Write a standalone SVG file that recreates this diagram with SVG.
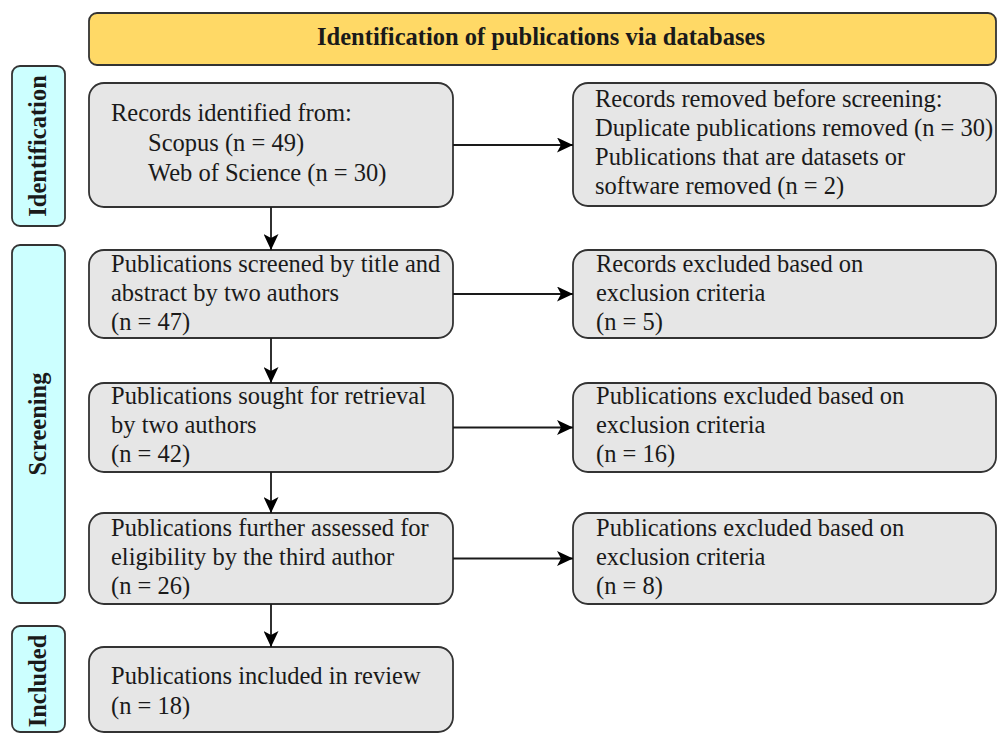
<svg xmlns="http://www.w3.org/2000/svg" width="997" height="734" viewBox="0 0 997 734">
<style>
.box{fill:#e6e6e6;stroke:#333;stroke-width:1.8}
.lab{fill:#ccffff;stroke:#333;stroke-width:1.8}
.hdr{fill:#ffd966;stroke:#333;stroke-width:1.8}
text{font-family:"Liberation Serif","Times New Roman",serif;font-size:24.5px;fill:#1a1a1a}
.b{font-weight:bold}
.conn line{stroke:#1a1a1a;stroke-width:1.8}
</style>
<defs>
<marker id="arr" markerUnits="userSpaceOnUse" markerWidth="17" markerHeight="15" refX="16" refY="7.5" orient="auto">
<path d="M0,0 L16,7.5 L0,15 L4,7.5 Z" fill="#000"/>
</marker>
</defs>
<rect width="997" height="734" fill="#fff"/>
<g id="header">
<rect class="hdr" x="89" y="13" width="907" height="52" rx="8"/>
<text class="b" x="541" y="45" text-anchor="middle">Identification of publications via databases</text>
</g>
<g id="lab-identification">
<rect class="lab" x="12" y="66" width="53" height="160" rx="8"/>
<text class="b" transform="translate(46,146) rotate(-90)" text-anchor="middle">Identification</text>
</g>
<g id="lab-screening">
<rect class="lab" x="12" y="245" width="53" height="358" rx="8"/>
<text class="b" transform="translate(46,424) rotate(-90)" text-anchor="middle">Screening</text>
</g>
<g id="lab-included">
<rect class="lab" x="12" y="626" width="53" height="106" rx="8"/>
<text class="b" transform="translate(46,681) rotate(-90)" text-anchor="middle">Included</text>
</g>
<g id="n1">
<rect class="box" x="89" y="83" width="364" height="124" rx="15"/>
<text x="111" y="121">Records identified from:</text>
<text x="148" y="151">Scopus (n = 49)</text>
<text x="148" y="181">Web of Science (n = 30)</text>
</g>
<g id="r1">
<rect class="box" x="573" y="83" width="423" height="123" rx="15"/>
<text x="595" y="107">Records removed before screening:</text>
<text x="595" y="136">Duplicate publications removed (n = 30)</text>
<text x="595" y="165">Publications that are datasets or</text>
<text x="595" y="194">software removed (n = 2)</text>
</g>
<g id="n2">
<rect class="box" x="89" y="250" width="364" height="88" rx="15"/>
<text x="111" y="272">Publications screened by title and</text>
<text x="111" y="301">abstract by two authors</text>
<text x="111" y="330">(n = 47)</text>
</g>
<g id="r2">
<rect class="box" x="573" y="250" width="423" height="88" rx="15"/>
<text x="596" y="272">Records excluded based on</text>
<text x="596" y="301">exclusion criteria</text>
<text x="596" y="330">(n = 5)</text>
</g>
<g id="n3">
<rect class="box" x="89" y="383" width="364" height="89" rx="15"/>
<text x="111" y="404">Publications sought for retrieval</text>
<text x="111" y="433">by two authors</text>
<text x="111" y="462">(n = 42)</text>
</g>
<g id="r3">
<rect class="box" x="573" y="383" width="423" height="89" rx="15"/>
<text x="596" y="404">Publications excluded based on</text>
<text x="596" y="433">exclusion criteria</text>
<text x="596" y="462">(n = 16)</text>
</g>
<g id="n4">
<rect class="box" x="89" y="513" width="364" height="91" rx="15"/>
<text x="111" y="536">Publications further assessed for</text>
<text x="111" y="565">eligibility by the third author</text>
<text x="111" y="594">(n = 26)</text>
</g>
<g id="r4">
<rect class="box" x="573" y="513" width="423" height="91" rx="15"/>
<text x="596" y="536">Publications excluded based on</text>
<text x="596" y="565">exclusion criteria</text>
<text x="596" y="594">(n = 8)</text>
</g>
<g id="n5">
<rect class="box" x="89" y="647" width="364" height="85" rx="15"/>
<text x="111" y="684">Publications included in review</text>
<text x="111" y="714">(n = 18)</text>
</g>
<g id="connectors" class="conn">
<line x1="453" y1="145" x2="573" y2="145" marker-end="url(#arr)"/>
<line x1="271" y1="207" x2="271" y2="250" marker-end="url(#arr)"/>
<line x1="453" y1="294" x2="573" y2="294" marker-end="url(#arr)"/>
<line x1="271" y1="338" x2="271" y2="383" marker-end="url(#arr)"/>
<line x1="453" y1="427.5" x2="573" y2="427.5" marker-end="url(#arr)"/>
<line x1="271" y1="472" x2="271" y2="513" marker-end="url(#arr)"/>
<line x1="453" y1="558.5" x2="573" y2="558.5" marker-end="url(#arr)"/>
<line x1="271" y1="604" x2="271" y2="647" marker-end="url(#arr)"/>
</g>
</svg>
